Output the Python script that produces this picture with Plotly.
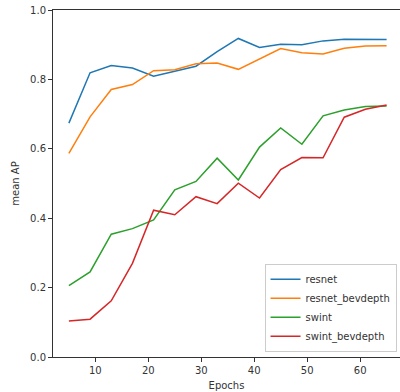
import plotly.graph_objects as go

epochs = [5, 9, 13, 17, 21, 25, 29, 33, 37, 41, 45, 49, 53, 57, 61, 65]
resnet = [0.674, 0.819, 0.840, 0.833, 0.809, 0.824, 0.838, 0.880, 0.918, 0.892, 0.901, 0.900, 0.911, 0.916, 0.916, 0.915]
resnet_bevdepth = [0.587, 0.692, 0.771, 0.785, 0.825, 0.828, 0.845, 0.847, 0.829, 0.859, 0.889, 0.877, 0.873, 0.890, 0.896, 0.897]
swint = [0.206, 0.245, 0.354, 0.370, 0.395, 0.482, 0.506, 0.573, 0.510, 0.605, 0.660, 0.613, 0.695, 0.712, 0.722, 0.723]
swint_bevdepth = [0.104, 0.109, 0.162, 0.270, 0.423, 0.410, 0.462, 0.442, 0.501, 0.458, 0.540, 0.575, 0.574, 0.691, 0.714, 0.726]

series = [
    ("resnet", resnet, "#1f77b4"),
    ("resnet_bevdepth", resnet_bevdepth, "#ff7f0e"),
    ("swint", swint, "#2ca02c"),
    ("swint_bevdepth", swint_bevdepth, "#d62728"),
]

fig = go.Figure()
for name, vals, color in series:
    fig.add_trace(go.Scatter(x=epochs, y=vals, mode="lines", name=name,
                             line=dict(color=color, width=1.5)))

axis_font = dict(family="DejaVu Sans", size=10, color="#333333")
fig.update_layout(
    width=400, height=392,
    margin=dict(l=53, r=0, t=10, b=35),
    paper_bgcolor="white", plot_bgcolor="white",
    font=axis_font,
    xaxis=dict(range=[2, 67.53], tickvals=[10, 20, 30, 40, 50, 60],
               showgrid=False, zeroline=False, showline=True, linecolor="#333333",
               linewidth=1, mirror=True, ticks="outside", ticklen=4, tickcolor="#333333",
               title=dict(text="Epochs", font=axis_font, standoff=6)),
    yaxis=dict(range=[0, 1.0], tickvals=[0, 0.2, 0.4, 0.6, 0.8, 1.0],
               ticktext=["0.0", "0.2", "0.4", "0.6", "0.8", "1.0"],
               showgrid=False, zeroline=False, showline=True, linecolor="#333333",
               linewidth=1, ticks="outside", ticklen=4, tickcolor="#333333",
               title=dict(text="mean AP", font=axis_font, standoff=8)),
    legend=dict(x=0.99, y=0.015, xanchor="right", yanchor="bottom",
                bgcolor="rgba(255,255,255,0.8)", bordercolor="#cccccc", borderwidth=1,
                font=dict(family="DejaVu Sans", size=10, color="#333333"),
                tracegroupgap=0, itemwidth=30),
)

fig.write_html("out.html", config={"displayModeBar": False},
               post_script="document.body.style.margin='0px';document.body.style.overflow='hidden';")
